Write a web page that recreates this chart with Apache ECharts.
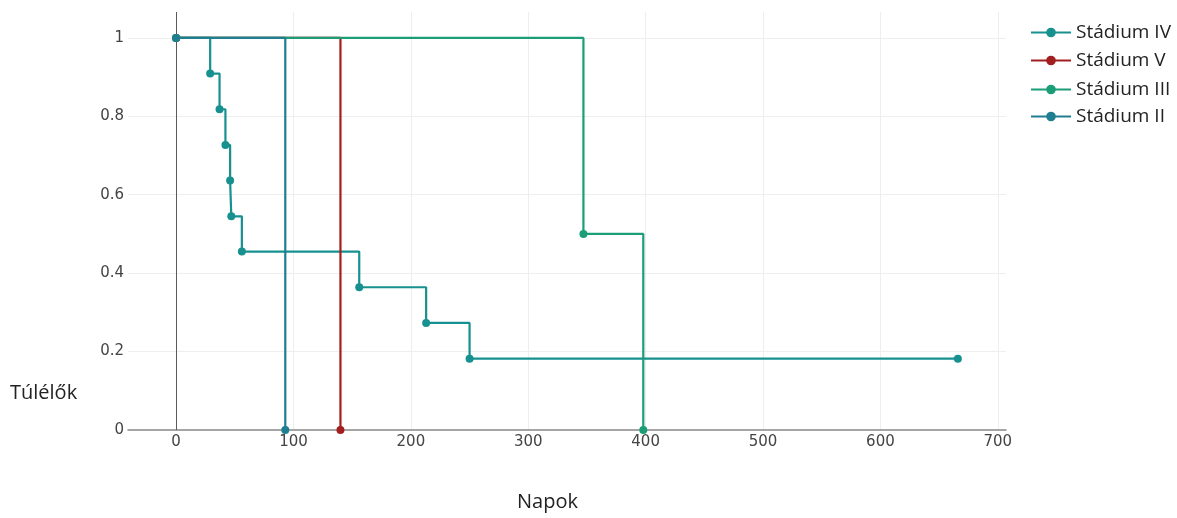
<!DOCTYPE html>
<html>
<head>
<meta charset="utf-8">
<script src="https://cdn.jsdelivr.net/npm/echarts@6/dist/echarts.min.js"></script>
<style>
  html, body { margin: 0; padding: 0; background: #fff; }
  #chart { width: 1177px; height: 518px; }
</style>
</head>
<body>
<div id="chart"></div>
<script>
// Kaplan–Meier túlélési görbék stádiumonként
const seriesNames = ['Stádium IV', 'Stádium V', 'Stádium III', 'Stádium II'];
const seriesColors = ['#17918f', '#a31f1f', '#1b9e77', '#1f7f91'];

const daysIV = [0, 29, 37, 42, 46, 47, 56, 156, 213, 250, 666];
const survIV = [1, 0.909, 0.818, 0.727, 0.636, 0.545, 0.455, 0.364, 0.273, 0.182, 0.182];

const daysV = [0, 140];
const survV = [1, 0];

const daysIII = [0, 347, 398];
const survIII = [1, 0.5, 0];

const daysII = [0, 93];
const survII = [1, 0];

const allDays = [daysIV, daysV, daysIII, daysII];
const allSurv = [survIV, survV, survIII, survII];

const fontFamily = '"Open Sans", "DejaVu Sans", sans-serif';
const tickFont = '"DejaVu Sans", Arial, sans-serif';

const curveSeries = seriesNames.map((name, i) => ({
  name: name,
  type: 'line',
  step: 'end',
  z: 3,
  symbol: 'circle',
  symbolSize: 8,
  showAllSymbol: true,
  color: seriesColors[i],
  lineStyle: { width: 2.2, color: seriesColors[i] },
  itemStyle: { color: seriesColors[i] },
  emphasis: { disabled: true },
  data: allDays[i].map((d, k) => [d, allSurv[i][k]])
}));

// nulla vonal x = 0-nál, a görbék alatt
const zeroLineSeries = {
  name: 'zero',
  type: 'line',
  z: 1,
  data: [],
  silent: true,
  markLine: {
    z: 1,
    silent: true,
    symbol: ['none', 'none'],
    label: { show: false },
    animation: false,
    lineStyle: { color: '#5a5a5a', width: 1, type: 'solid' },
    data: [{ xAxis: 0 }]
  }
};

const legendTops = [18, 46, 75, 102];
const legends = seriesNames.map((name, i) => ({
  data: [name],
  left: 1025,
  top: legendTops[i],
  orient: 'vertical',
  itemWidth: 40,
  itemHeight: 12,
  itemGap: 6,
  textStyle: { fontFamily: fontFamily, fontSize: 19, color: '#222' }
}));

const tickLabel = { color: '#444444', fontFamily: tickFont, fontSize: 15 };

const chart = echarts.init(document.getElementById('chart'));
chart.setOption({
  animation: false,
  backgroundColor: '#ffffff',
  legend: legends,
  grid: { left: 128, right: 171, top: 12, bottom: 88, containLabel: false },
  xAxis: {
    type: 'value',
    min: -41,
    max: 707,
    splitNumber: 7,
    axisLine: { show: true, onZero: false, lineStyle: { color: '#888888', width: 1.5 } },
    axisTick: { show: false },
    splitLine: { show: true, showMinLine: false, showMaxLine: false, lineStyle: { color: '#eeeeee', width: 1 } },
    axisLabel: Object.assign({ showMinLabel: false, showMaxLabel: false, margin: 5 }, tickLabel)
  },
  yAxis: {
    type: 'value',
    min: 0,
    max: 1.066,
    splitNumber: 5,
    axisLine: { show: false },
    axisTick: { show: false },
    splitLine: { show: true, showMinLine: false, showMaxLine: false, lineStyle: { color: '#eeeeee', width: 1 } },
    axisLabel: Object.assign({ showMaxLabel: false, margin: 4 }, tickLabel)
  },
  graphic: [
    { type: 'text', left: 10, top: 383, style: { text: 'Túlélők', fontFamily: fontFamily, fontSize: 20, fill: '#222' } },
    { type: 'text', left: 517, top: 492, style: { text: 'Napok', fontFamily: fontFamily, fontSize: 20, fill: '#222' } }
  ],
  series: [zeroLineSeries].concat(curveSeries)
});
</script>
</body>
</html>
